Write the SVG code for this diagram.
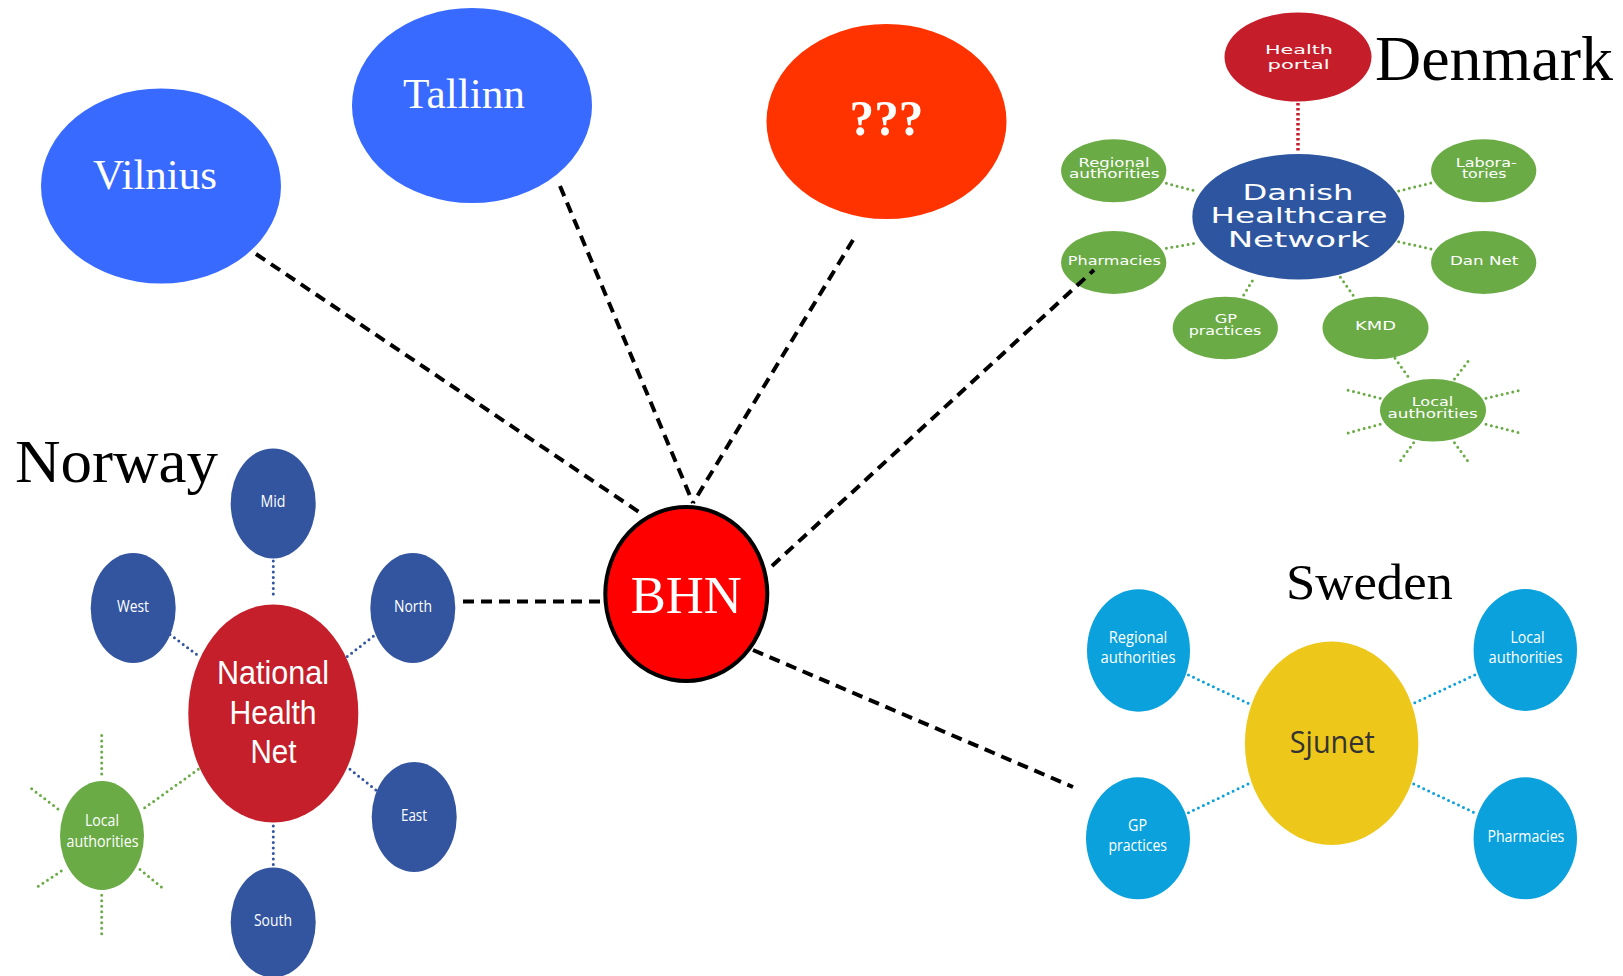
<svg xmlns="http://www.w3.org/2000/svg" width="1623" height="976" viewBox="0 0 1623 976">
<defs>
<style>
.city{font-family:"Liberation Serif","Times New Roman",serif;fill:#fff;text-anchor:middle}
.country{font-family:"Liberation Serif","Times New Roman",serif;fill:#000}
.seg{font-family:"Open Sans","Noto Sans","Liberation Sans",sans-serif;fill:#fff;text-anchor:middle}
.big{font-family:"Liberation Sans","Open Sans",sans-serif;fill:#fff;text-anchor:middle}
.goth{font-family:"DejaVu Sans","Liberation Sans",sans-serif;fill:#fff;text-anchor:middle}
.dash{fill:none;stroke:#000;stroke-width:4;stroke-dasharray:11 7}
.dotN{fill:none;stroke:#3355a0;stroke-width:3;stroke-linecap:round;stroke-dasharray:0 5.5}
.dotG{fill:none;stroke:#6aab46;stroke-width:3;stroke-linecap:round;stroke-dasharray:0 5.5}
.dotS{fill:none;stroke:#0aa1dd;stroke-width:3;stroke-linecap:round;stroke-dasharray:0 5.5}
.dotR{fill:none;stroke:#c51d2a;stroke-width:3.5;stroke-dasharray:2.5 2.5}
.nblue{fill:#3355a0}
.nred{fill:#c41f2a}
.green{fill:#6aab46}
.sblue{fill:#0aa1dd}
</style>
</defs>
<rect x="0" y="0" width="1623" height="976" fill="#fff"/>

<!-- top nodes -->
<g id="vilnius"><ellipse cx="161" cy="186" rx="120" ry="97.5" fill="#386aff"/><text class="city" x="155" y="189" font-size="42" textLength="124" lengthAdjust="spacingAndGlyphs">Vilnius</text></g>
<g id="tallinn"><ellipse cx="472" cy="105.5" rx="120" ry="97.5" fill="#386aff"/><text class="city" x="464" y="108" font-size="42" textLength="122" lengthAdjust="spacingAndGlyphs">Tallinn</text></g>
<g id="unknown"><ellipse cx="886.5" cy="121.5" rx="120" ry="97.5" fill="#ff3300"/><text class="city" x="886.5" y="135" font-size="50" font-weight="bold" textLength="74" lengthAdjust="spacingAndGlyphs">???</text></g>

<!-- Norway -->
<g id="norway">
<text class="country" x="15" y="482" font-size="62" textLength="203" lengthAdjust="spacingAndGlyphs">Norway</text>
</g>
<g id="no-mid"><ellipse class="nblue" cx="273.2" cy="503.4" rx="42.5" ry="55"/><text class="seg" x="273" y="507" font-size="17" textLength="25" lengthAdjust="spacingAndGlyphs">Mid</text></g>
<g id="no-west"><ellipse class="nblue" cx="133.2" cy="608" rx="42.5" ry="55"/><text class="seg" x="133" y="611.5" font-size="17" textLength="32" lengthAdjust="spacingAndGlyphs">West</text></g>
<g id="no-north"><ellipse class="nblue" cx="412.8" cy="608" rx="42.5" ry="55"/><text class="seg" x="413" y="611.5" font-size="17" textLength="38" lengthAdjust="spacingAndGlyphs">North</text></g>
<g id="no-east"><ellipse class="nblue" cx="414.2" cy="817" rx="42.5" ry="55"/><text class="seg" x="414" y="821" font-size="17" textLength="26" lengthAdjust="spacingAndGlyphs">East</text></g>
<g id="no-south"><ellipse class="nblue" cx="273.2" cy="922.4" rx="42.5" ry="55"/><text class="seg" x="273" y="926" font-size="17" textLength="38" lengthAdjust="spacingAndGlyphs">South</text></g>
<g id="no-nhn"><ellipse class="nred" cx="273.3" cy="713.5" rx="85" ry="109"/>
<text class="big" x="273" y="684" font-size="33" textLength="112" lengthAdjust="spacingAndGlyphs">National</text>
<text class="big" x="273" y="724" font-size="33" textLength="87" lengthAdjust="spacingAndGlyphs">Health</text>
<text class="big" x="273.5" y="763" font-size="33" textLength="46" lengthAdjust="spacingAndGlyphs">Net</text></g>
<g id="no-local"><ellipse class="green" cx="102" cy="835.5" rx="42" ry="54.5"/>
<text class="seg" x="102" y="826" font-size="17" textLength="34" lengthAdjust="spacingAndGlyphs">Local</text>
<text class="seg" x="102.5" y="847" font-size="17" textLength="72" lengthAdjust="spacingAndGlyphs">authorities</text></g>

<!-- Denmark -->
<g id="denmark"><text class="country" x="1375" y="80" font-size="64" textLength="238" lengthAdjust="spacingAndGlyphs">Denmark</text></g>
<g id="dk-portal"><ellipse cx="1298" cy="57" rx="73.5" ry="44.5" fill="#c51d2a"/>
<text class="goth" x="1299" y="54" font-size="13" textLength="68" lengthAdjust="spacingAndGlyphs">Health</text>
<text class="goth" x="1298.5" y="69.3" font-size="13" textLength="62" lengthAdjust="spacingAndGlyphs">portal</text></g>
<g id="dk-dhn"><ellipse cx="1298.3" cy="216.7" rx="106" ry="62.7" fill="#2e56a0"/>
<text class="goth" x="1298" y="200" font-size="21" textLength="111" lengthAdjust="spacingAndGlyphs">Danish</text>
<text class="goth" x="1299" y="222.7" font-size="21" textLength="177" lengthAdjust="spacingAndGlyphs">Healthcare</text>
<text class="goth" x="1298.7" y="246.7" font-size="21" textLength="142" lengthAdjust="spacingAndGlyphs">Network</text></g>
<g id="dk-regional"><ellipse class="green" cx="1113.7" cy="170.8" rx="52.6" ry="31.5"/>
<text class="goth" x="1114" y="166.7" font-size="11.5" textLength="71" lengthAdjust="spacingAndGlyphs">Regional</text>
<text class="goth" x="1114.3" y="178.3" font-size="11.5" textLength="90.7" lengthAdjust="spacingAndGlyphs">authorities</text></g>
<g id="dk-labs"><ellipse class="green" cx="1483.7" cy="170.8" rx="52.6" ry="31.5"/>
<text class="goth" x="1486.3" y="166.7" font-size="11.5" textLength="61" lengthAdjust="spacingAndGlyphs">Labora-</text>
<text class="goth" x="1484.2" y="178.3" font-size="11.5" textLength="44.6" lengthAdjust="spacingAndGlyphs">tories</text></g>
<g id="dk-pharm"><ellipse class="green" cx="1113.7" cy="262.5" rx="52.6" ry="31.5"/>
<text class="goth" x="1114.3" y="265" font-size="11.5" textLength="93" lengthAdjust="spacingAndGlyphs">Pharmacies</text></g>
<g id="dk-dannet"><ellipse class="green" cx="1483.7" cy="262.5" rx="52.6" ry="31.5"/>
<text class="goth" x="1484.2" y="265" font-size="11.5" textLength="68.4" lengthAdjust="spacingAndGlyphs">Dan Net</text></g>
<g id="dk-gp"><ellipse class="green" cx="1225.3" cy="328" rx="52.6" ry="31.3"/>
<text class="goth" x="1225.8" y="323.3" font-size="11.5" textLength="22.3" lengthAdjust="spacingAndGlyphs">GP</text>
<text class="goth" x="1225" y="335" font-size="11.5" textLength="72.5" lengthAdjust="spacingAndGlyphs">practices</text></g>
<g id="dk-kmd"><ellipse class="green" cx="1375.5" cy="328" rx="53" ry="31.3"/>
<text class="goth" x="1375.6" y="330" font-size="11.5" textLength="41" lengthAdjust="spacingAndGlyphs">KMD</text></g>
<g id="dk-local"><ellipse class="green" cx="1433" cy="410.3" rx="53" ry="31.3"/>
<text class="goth" x="1432.5" y="406" font-size="11.5" textLength="41.6" lengthAdjust="spacingAndGlyphs">Local</text>
<text class="goth" x="1432.7" y="418.3" font-size="11.5" textLength="90.3" lengthAdjust="spacingAndGlyphs">authorities</text></g>

<!-- Sweden -->
<g id="sweden"><text class="country" x="1286" y="599" font-size="51" textLength="167" lengthAdjust="spacingAndGlyphs">Sweden</text></g>
<g id="se-regional"><ellipse class="sblue" cx="1138.5" cy="650.5" rx="51.5" ry="61.2"/>
<text class="seg" x="1138" y="643" font-size="17" textLength="58.5" lengthAdjust="spacingAndGlyphs">Regional</text>
<text class="seg" x="1138" y="663" font-size="17" textLength="75" lengthAdjust="spacingAndGlyphs">authorities</text></g>
<g id="se-local"><ellipse class="sblue" cx="1525.3" cy="650" rx="51.7" ry="61"/>
<text class="seg" x="1527.5" y="643" font-size="17" textLength="34" lengthAdjust="spacingAndGlyphs">Local</text>
<text class="seg" x="1525.5" y="663" font-size="17" textLength="74" lengthAdjust="spacingAndGlyphs">authorities</text></g>
<g id="se-gp"><ellipse class="sblue" cx="1138" cy="838.3" rx="52" ry="61"/>
<text class="seg" x="1137.5" y="831" font-size="17" textLength="19" lengthAdjust="spacingAndGlyphs">GP</text>
<text class="seg" x="1137.8" y="851" font-size="17" textLength="58.5" lengthAdjust="spacingAndGlyphs">practices</text></g>
<g id="se-pharm"><ellipse class="sblue" cx="1525.3" cy="838.3" rx="51.7" ry="61"/>
<text class="seg" x="1525.9" y="842" font-size="17" textLength="77" lengthAdjust="spacingAndGlyphs">Pharmacies</text></g>
<g id="se-sjunet"><ellipse cx="1331.6" cy="743.3" rx="86.7" ry="101.7" fill="#eec71b"/>
<text x="1332.3" y="753" font-family="'Open Sans','Noto Sans','Liberation Sans',sans-serif" font-size="31" fill="#333" text-anchor="middle" textLength="85" lengthAdjust="spacingAndGlyphs">Sjunet</text></g>

<!-- connectors -->
<g id="connectors">
<path class="dotN" d="M273.3 561 V599 M170 634.5 L200 657 M373.3 636.3 L346.7 657 M350 769.3 L376.7 790.6 M273.3 826 V866"/>
<path class="dotG" d="M198.3 769.3 L144 808.3 M101.7 735.6 V774.6 M31.7 788.8 L61.7 811.8 M38.3 886.3 L65 868.6 M101.7 895.2 V934.2 M140 869.6 L165 889.9"/>
<path class="dotR" d="M1298 103 V153"/>
<path class="dotG" d="M1166.4 183.3 L1198 191.7 M1166.4 248.3 L1198 242.7 M1398.7 191 L1432.2 182.7 M1398.7 241.7 L1432.2 249.3 M1243.7 295 L1254.9 276.7 M1340.4 277.3 L1354.1 296.7 M1395 358.3 L1409.9 379 M1454.5 379 L1470.5 358.3 M1486 398.3 L1521.4 390 M1486 424.3 L1521.4 433.3 M1454.5 442.7 L1469.4 463.3 M1413.6 442.7 L1398.7 463.3 M1380.1 424.3 L1346.7 433.3 M1380.1 398.3 L1344.8 389.3"/>
<path class="dotS" d="M1188.5 675 L1249.6 704 M1474.7 675 L1413.7 703.3 M1188.5 812.7 L1249.6 783.3 M1413.7 784 L1475.8 813.3"/>
<path class="dash" d="M256 254 L642 514"/>
<path class="dash" d="M560 186 L693 503"/>
<path class="dash" d="M853 240 L693 503"/>
<path class="dash" d="M772 566 L1094 270"/>
<path class="dash" d="M463 601.5 L603 601.5"/>
<path class="dash" d="M753 650 L1073 787"/>
</g>

<g id="bhn"><ellipse cx="686.3" cy="594" rx="81" ry="87" fill="#ff0000" stroke="#000" stroke-width="4"/>
<text class="city" x="686.2" y="613.3" font-size="53" textLength="111" lengthAdjust="spacingAndGlyphs">BHN</text></g>
</svg>
